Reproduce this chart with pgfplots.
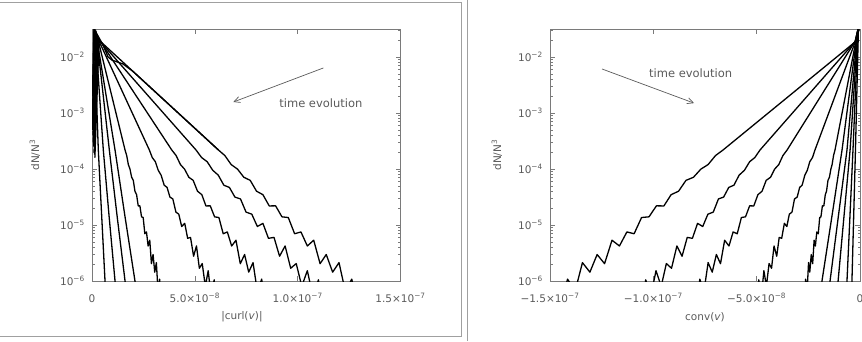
\documentclass[border=0pt]{standalone}
\usepackage{pgfplots}
\pgfplotsset{compat=1.18}
\usepackage{fontspec}
\setmainfont{DejaVu Sans}
\usetikzlibrary{arrows.meta}
\definecolor{axgray}{HTML}{7a7a7a}
\definecolor{txtgray}{HTML}{5a5a5a}
\definecolor{framegray}{HTML}{a0a0a0}
\tikzset{crv/.style={black, solid, line width=1.3pt, mark=none, line join=round}}
\begin{document}
\begin{tikzpicture}
\path[use as bounding box] (0,0) rectangle (862pt,341pt);
% ---------------- left panel ----------------
\begin{axis}[at={(92pt,60pt)}, anchor=south west,
  scale only axis, width=308.5pt, height=252pt,
  ymode=log, ymin=1e-6, ymax=0.0316,
  xmin=0, xmax=1.5e-7,
  axis line style={axgray, line width=0.7pt},
  tick align=inside, major tick length=5pt, minor tick length=2.5pt,
  tick style={axgray, line width=0.5pt},
  xtick pos=both, ytick pos=both, xticklabel pos=lower, yticklabel pos=left,
  ytick={1e-6,1e-5,1e-4,1e-3,1e-2},
  yticklabels={10\textsuperscript{−6},10\textsuperscript{−5},10\textsuperscript{−4},10\textsuperscript{−3},10\textsuperscript{−2}},
  minor ytick={2e-6,3e-6,4e-6,5e-6,6e-6,7e-6,8e-6,9e-6,2e-5,3e-5,4e-5,5e-5,6e-5,7e-5,8e-5,9e-5,2e-4,3e-4,4e-4,5e-4,6e-4,7e-4,8e-4,9e-4,2e-3,3e-3,4e-3,5e-3,6e-3,7e-3,8e-3,9e-3,2e-2,3e-2},
  scaled x ticks=false,
  xtick={0,5e-8,1e-7,1.5e-7},
  xticklabels={0,5.0×10\textsuperscript{−8},1.0×10\textsuperscript{−7},1.5×10\textsuperscript{−7}},
  ticklabel style={font=\fontsize{10.5}{12}\selectfont, text=txtgray},
  yticklabel style={anchor=east, inner sep=0pt, xshift=-7pt},
  xticklabel style={anchor=base, inner sep=0pt, yshift=-21pt},
  xlabel={|curl(\textit{v})|},
  ylabel={dN/N\textsuperscript{3}},
  every axis x label/.style={at={(axis description cs:0.486,0)}, anchor=center, yshift=-36pt, font=\fontsize{10.5}{12}\selectfont, text=txtgray},
  every axis y label/.style={at={(axis description cs:-0.185,0.5)}, rotate=90, anchor=center, font=\fontsize{10.5}{12}\selectfont, text=txtgray},
]
\addplot[crv] coordinates {(0.2e-9,2e-3) (0.97e-9,3.4e-2) (3.07e-9,2.18e-4) (6.33e-9,1e-6) (7.0e-9,4e-7)};
\addplot[crv] coordinates {(0.3e-9,1e-3) (1.46e-9,3.1e-2) (5.5e-9,2.18e-4) (8.3e-9,1.45e-5) (11.2e-9,1e-6) (12.5e-9,4e-7)};
\addplot[crv] coordinates {(0.4e-9,6e-4) (1.95e-9,2.9e-2) (8.43e-9,2.18e-4) (12.2e-9,1.45e-5) (16.07e-9,1e-6) (17.5e-9,4e-7)};
\addplot[crv] coordinates {(0.5e-9,4e-4) (1.95e-9,2.6e-2) (11.2e-9,2.18e-4) (16e-9,1.45e-5) (20.9e-9,1e-6) (22.5e-9,4e-7)};
\addplot[crv] coordinates {(0.6e-9,3e-4) (2.44e-9,2.4e-2) (16.07e-9,2.18e-4)
 (16.87e-9,1.74e-4) (17.67e-9,1.20e-4) (18.47e-9,9.95e-5) (19.28e-9,7.11e-5) (20.08e-9,6.27e-5) (20.88e-9,4.01e-5) (21.68e-9,3.48e-5) (22.48e-9,2.19e-5) (23.28e-9,2.20e-5) (24.09e-9,1.40e-5) (24.89e-9,1.36e-5) (25.69e-9,6.98e-6) (26.49e-9,7.52e-6) (27.29e-9,4.22e-6) (28.09e-9,5.35e-6) (28.89e-9,2.04e-6) (29.70e-9,2.97e-6) (30.50e-9,1.44e-6) (31.30e-9,2.13e-6) (32.10e-9,6.5e-7) (32.90e-9,1.08e-6) (33.70e-9,3.2e-7)};
\addplot[crv] coordinates {(0.8e-9,2.5e-4) (2.44e-9,2.3e-2) (27.9e-9,2.18e-4)
 (29.3e-9,1.60e-4) (30.8e-9,1.35e-4) (32.2e-9,9.5e-5) (33.6e-9,7.76e-5) (35.1e-9,5.14e-5) (36.5e-9,4.69e-5) (37.9e-9,3.15e-5) (39.3e-9,2.92e-5) (40.8e-9,1.70e-5) (42.2e-9,1.56e-5) (43.6e-9,9.4e-6) (45.1e-9,1.07e-5) (46.5e-9,5.78e-6) (47.9e-9,6.01e-6) (49.4e-9,2.77e-6) (50.8e-9,4.23e-6) (52.2e-9,1.69e-6) (53.6e-9,2.05e-6) (55.1e-9,8.05e-7) (56.5e-9,1.53e-6) (57.9e-9,5.4e-7) (59.4e-9,1.05e-6) (60.8e-9,2.5e-7)};
\addplot[crv] coordinates {(1.0e-9,2e-4) (2.92e-9,2.2e-2) (38.8e-9,2.18e-4)
 (40.9e-9,1.74e-4) (43.0e-9,1.20e-4) (45.0e-9,9.95e-5) (47.1e-9,7.11e-5) (49.2e-9,6.27e-5) (51.3e-9,4.01e-5) (53.4e-9,3.48e-5) (55.4e-9,2.19e-5) (57.5e-9,2.20e-5) (59.6e-9,1.40e-5) (61.7e-9,1.36e-5) (63.8e-9,6.98e-6) (65.8e-9,7.52e-6) (67.9e-9,4.22e-6) (70.0e-9,5.35e-6) (72.1e-9,2.04e-6) (74.2e-9,2.97e-6) (76.2e-9,1.44e-6) (78.3e-9,2.13e-6) (80.4e-9,6.5e-7) (82.5e-9,1.08e-6) (84.6e-9,3.2e-7) (86.6e-9,8.1e-7) (88.7e-9,2e-7)};
\addplot[crv] coordinates {(1.2e-9,1.8e-4) (2.92e-9,2.1e-2) (50.6e-9,2.18e-4)
 (53.3e-9,1.60e-4) (56.0e-9,1.35e-4) (58.7e-9,9.5e-5) (61.4e-9,7.76e-5) (64.1e-9,5.14e-5) (66.8e-9,4.69e-5) (69.5e-9,3.15e-5) (72.2e-9,2.92e-5) (74.9e-9,1.70e-5) (77.7e-9,1.56e-5) (80.4e-9,9.4e-6) (83.1e-9,1.07e-5) (85.8e-9,5.78e-6) (88.5e-9,6.01e-6) (91.2e-9,2.77e-6) (93.9e-9,4.23e-6) (96.6e-9,1.69e-6) (99.3e-9,2.05e-6) (102.0e-9,8.05e-7) (104.7e-9,1.53e-6) (107.4e-9,5.4e-7) (110.1e-9,1.05e-6) (112.8e-9,2.5e-7)};
\addplot[crv] coordinates {(1.4e-9,1.6e-4) (3.41e-9,2.0e-2) (61.5e-9,2.18e-4)
 (64.59e-9,1.74e-4) (67.67e-9,1.20e-4) (70.76e-9,9.95e-5) (73.84e-9,7.11e-5) (76.93e-9,6.27e-5) (80.01e-9,4.01e-5) (83.10e-9,3.48e-5) (86.18e-9,2.19e-5) (89.27e-9,2.20e-5) (92.35e-9,1.40e-5) (95.44e-9,1.36e-5) (98.52e-9,6.98e-6) (101.6e-9,7.52e-6) (104.7e-9,4.22e-6) (107.8e-9,5.35e-6) (110.9e-9,2.04e-6) (113.9e-9,2.97e-6) (117.0e-9,1.44e-6) (120.1e-9,2.13e-6) (123.2e-9,6.5e-7) (126.3e-9,1.08e-6) (129.4e-9,3.2e-7)};
\addplot[crv] coordinates {(0.2e-9,5e-4) (0.97e-9,3.2e-2) (5.36e-9,1.64e-2) (7.8e-9,1.0e-2) (9.74e-9,8.8e-3) (15.1e-9,7.5e-3) (20e-9,5.5e-3) (61.5e-9,2.18e-4)};
\draw[txtgray, line width=0.7pt, -{Straight Barb[length=6pt,width=6pt]}] (axis cs:1.125e-7,6.37e-3) -- (axis cs:6.87e-8,1.57e-3);
\node[anchor=west, inner sep=0pt, text=txtgray, font=\fontsize{11.5}{13}\selectfont] at (axis cs:9.1e-8,1.5e-3) {time evolution};
\end{axis}
% ---------------- right panel ----------------
\begin{axis}[at={(550pt,60pt)}, anchor=south west,
  scale only axis, width=310pt, height=252pt,
  ymode=log, ymin=1e-6, ymax=0.0316,
  xmin=-1.5e-7, xmax=0,
  axis line style={axgray, line width=0.7pt},
  tick align=inside, major tick length=5pt, minor tick length=2.5pt,
  tick style={axgray, line width=0.5pt},
  xtick pos=both, ytick pos=both, xticklabel pos=lower, yticklabel pos=left,
  ytick={1e-6,1e-5,1e-4,1e-3,1e-2},
  yticklabels={10\textsuperscript{−6},10\textsuperscript{−5},10\textsuperscript{−4},10\textsuperscript{−3},10\textsuperscript{−2}},
  minor ytick={2e-6,3e-6,4e-6,5e-6,6e-6,7e-6,8e-6,9e-6,2e-5,3e-5,4e-5,5e-5,6e-5,7e-5,8e-5,9e-5,2e-4,3e-4,4e-4,5e-4,6e-4,7e-4,8e-4,9e-4,2e-3,3e-3,4e-3,5e-3,6e-3,7e-3,8e-3,9e-3,2e-2,3e-2},
  scaled x ticks=false,
  xtick={-1.5e-7,-1e-7,-5e-8,0},
  xticklabels={−1.5×10\textsuperscript{−7},−1.0×10\textsuperscript{−7},−5.0×10\textsuperscript{−8},0},
  ticklabel style={font=\fontsize{10.5}{12}\selectfont, text=txtgray},
  yticklabel style={anchor=east, inner sep=0pt, xshift=-7pt},
  xticklabel style={anchor=base, inner sep=0pt, yshift=-21pt},
  xlabel={conv(\textit{v})},
  ylabel={dN/N\textsuperscript{3}},
  every axis x label/.style={at={(axis description cs:0.5,0)}, anchor=center, yshift=-36pt, font=\fontsize{10.5}{12}\selectfont, text=txtgray},
  every axis y label/.style={at={(axis description cs:-0.171,0.5)}, rotate=90, anchor=center, font=\fontsize{10.5}{12}\selectfont, text=txtgray},
]
\addplot[crv] coordinates {(-0.3e-9,4e-2) (-2.42e-9,1.85e-2) (-66.3e-9,2.18e-4)
 (-69.9e-9,1.74e-4) (-73.5e-9,1.20e-4) (-77.0e-9,9.95e-5) (-80.6e-9,7.11e-5) (-84.2e-9,6.27e-5) (-87.8e-9,4.01e-5) (-91.4e-9,3.48e-5) (-94.9e-9,2.19e-5) (-98.5e-9,2.20e-5) (-102.1e-9,1.40e-5) (-105.7e-9,1.36e-5) (-109.3e-9,6.98e-6) (-112.8e-9,7.52e-6) (-116.4e-9,4.22e-6) (-120.0e-9,5.35e-6) (-123.6e-9,2.04e-6) (-127.2e-9,2.97e-6) (-130.7e-9,1.44e-6) (-134.3e-9,2.13e-6) (-137.9e-9,6.5e-7) (-141.5e-9,1.08e-6) (-145.1e-9,3.2e-7) (-148.6e-9,8.1e-7) (-152.2e-9,2e-7)};
\addplot[crv] coordinates {(-0.3e-9,4e-2) (-2.3e-9,1.9e-2) (-48.4e-9,2.18e-4)
 (-50.9e-9,1.60e-4) (-53.4e-9,1.35e-4) (-55.9e-9,9.5e-5) (-58.5e-9,7.76e-5) (-61.0e-9,5.14e-5) (-63.5e-9,4.69e-5) (-66.0e-9,3.15e-5) (-68.5e-9,2.92e-5) (-71.0e-9,1.70e-5) (-73.6e-9,1.56e-5) (-76.1e-9,9.4e-6) (-78.6e-9,1.07e-5) (-81.1e-9,5.78e-6) (-83.6e-9,6.01e-6) (-86.1e-9,2.77e-6) (-88.6e-9,4.23e-6) (-91.2e-9,1.69e-6) (-93.7e-9,2.05e-6) (-96.2e-9,8.05e-7) (-98.7e-9,1.53e-6) (-101.2e-9,5.4e-7) (-103.7e-9,1.05e-6) (-106.2e-9,2.5e-7)};
\addplot[crv] coordinates {(-0.3e-9,4e-2) (-2.2e-9,1.95e-2) (-35.3e-9,2.18e-4)
 (-37.3e-9,1.74e-4) (-39.3e-9,1.20e-4) (-41.3e-9,9.95e-5) (-43.3e-9,7.11e-5) (-45.4e-9,6.27e-5) (-47.4e-9,4.01e-5) (-49.4e-9,3.48e-5) (-51.4e-9,2.19e-5) (-53.4e-9,2.20e-5) (-55.4e-9,1.40e-5) (-57.4e-9,1.36e-5) (-59.4e-9,6.98e-6) (-61.4e-9,7.52e-6) (-63.4e-9,4.22e-6) (-65.5e-9,5.35e-6) (-67.5e-9,2.04e-6) (-69.5e-9,2.97e-6) (-71.5e-9,1.44e-6) (-73.5e-9,2.13e-6) (-75.5e-9,6.5e-7) (-77.5e-9,1.08e-6) (-79.5e-9,3.2e-7) (-81.5e-9,8.1e-7) (-83.5e-9,2e-7)};
\addplot[crv] coordinates {(-0.3e-9,4e-2) (-2.0e-9,2.0e-2) (-21.8e-9,2.18e-4)
 (-23.0e-9,1.60e-4) (-24.3e-9,1.35e-4) (-25.5e-9,9.5e-5) (-26.7e-9,7.76e-5) (-28.0e-9,5.14e-5) (-29.2e-9,4.69e-5) (-30.4e-9,3.15e-5) (-31.7e-9,2.92e-5) (-32.9e-9,1.70e-5) (-34.2e-9,1.56e-5) (-35.4e-9,9.4e-6) (-36.6e-9,1.07e-5) (-37.9e-9,5.78e-6) (-39.1e-9,6.01e-6) (-40.3e-9,2.77e-6) (-41.6e-9,4.23e-6) (-42.8e-9,1.69e-6) (-44.0e-9,2.05e-6) (-45.3e-9,8.05e-7) (-46.5e-9,1.53e-6) (-47.7e-9,5.4e-7) (-49.0e-9,1.05e-6) (-50.2e-9,2.5e-7)};
\addplot[crv] coordinates {(-0.2e-9,4e-2) (-1.8e-9,2.1e-2) (-12.1e-9,2.18e-4)
 (-12.8e-9,1.74e-4) (-13.5e-9,1.20e-4) (-14.1e-9,9.95e-5) (-14.8e-9,7.11e-5) (-15.5e-9,6.27e-5) (-16.2e-9,4.01e-5) (-16.8e-9,3.48e-5) (-17.5e-9,2.19e-5) (-18.2e-9,2.20e-5) (-18.9e-9,1.40e-5) (-19.5e-9,1.36e-5) (-20.2e-9,6.98e-6) (-20.9e-9,7.52e-6) (-21.6e-9,4.22e-6) (-22.2e-9,5.35e-6) (-22.9e-9,2.04e-6) (-23.6e-9,2.97e-6) (-24.3e-9,1.44e-6) (-24.9e-9,2.13e-6) (-25.6e-9,6.5e-7) (-26.3e-9,1.08e-6) (-27.0e-9,3.2e-7)};
\addplot[crv] coordinates {(-0.2e-9,4e-2) (-1.6e-9,2.2e-2) (-8.7e-9,2.18e-4) (-13.5e-9,1.5e-5) (-18.4e-9,1e-6) (-19.5e-9,4e-7)};
\addplot[crv] coordinates {(-0.2e-9,4e-2) (-1.4e-9,2.3e-2) (-6.3e-9,2.18e-4) (-10.4e-9,1.5e-5) (-14.5e-9,1e-6) (-15.5e-9,4e-7)};
\addplot[crv] coordinates {(-0.1e-9,4e-2) (-1.2e-9,2.4e-2) (-4.8e-9,2.18e-4) (-7.7e-9,1.5e-5) (-10.6e-9,1e-6) (-11.5e-9,4e-7)};
\addplot[crv] coordinates {(-0.1e-9,4e-2) (-1.0e-9,2.6e-2) (-3.4e-9,2.18e-4) (-6.3e-9,1e-6) (-7e-9,4e-7)};
\addplot[crv] coordinates {(-0.1e-9,4e-2) (-0.8e-9,2.8e-2) (-2.2e-9,2.18e-4) (-3.9e-9,1e-6) (-4.3e-9,4e-7)};
\draw[txtgray, line width=0.7pt, -{Straight Barb[length=6pt,width=6pt]}] (axis cs:-1.248e-7,6.1e-3) -- (axis cs:-8.03e-8,1.5e-3);
\node[anchor=west, inner sep=0pt, text=txtgray, font=\fontsize{11.5}{13}\selectfont] at (axis cs:-1.021e-7,5.18e-3) {time evolution};
\end{axis}
% ---------------- frame lines ----------------
\draw[framegray, line width=0.8pt] (0pt,339pt) -- (461pt,339pt) -- (461pt,5pt) -- (0pt,5pt);
\draw[framegray, line width=0.8pt] (467pt,0pt) -- (467pt,341pt);
\end{tikzpicture}
\end{document}
